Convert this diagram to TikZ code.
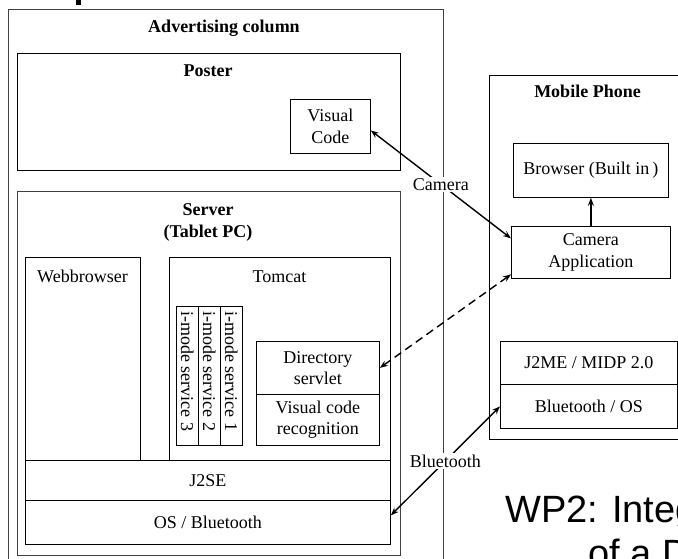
\documentclass[tikz,border=0pt]{standalone}
\usepackage{fontspec}
\setmainfont{Liberation Serif}
\newfontfamily\slidefont{Liberation Sans}
\usetikzlibrary{arrows.meta,positioning,calc}

\tikzset{
  box/.style={draw=black, line width=0.8pt, rectangle, inner sep=0pt, anchor=north west},
  outerbox/.style={draw=black!75, line width=0.9pt, rectangle, inner sep=0pt, anchor=north west},
  txt/.style={inner sep=0pt, align=center, font=\fontsize{18}{21.5}\selectfont},
  bold/.style={txt, font=\fontsize{18}{21.5}\selectfont\bfseries},
  svc/.style={txt, rotate=-90, anchor=west},
  tip/.style={Stealth[length=8pt,width=6pt]},
  link/.style={line width=1.4pt, {Stealth[length=8pt,width=6pt]}-{Stealth[length=8pt,width=6pt]}},
  linklabel/.style={txt, fill=white, inner sep=1.5pt},
  slide/.style={inner sep=0pt, anchor=base west, font=\fontsize{38}{44}\slidefont}
}

\begin{document}
\begin{tikzpicture}[x=1pt, y=-1pt]
\useasboundingbox (0,0) rectangle (678,558);
\clip (0,0) rectangle (678,558);
\fill[white] (0,0) rectangle (678,558);

% slide title descender and slide heading
\fill[black] (76,0) rectangle (81,5);
\node[slide] (wpa) at (505,522) {WP2: Integ};
\node[slide] (wpb) at (588,566) {of a D};

% advertising column with poster
\node[outerbox, minimum width=435pt, minimum height=570pt] (adcol) at (8,9) {};
\node[bold, anchor=base] (adcoltitle) at (224,32) {Advertising column};

\node[box, minimum width=383pt, minimum height=117pt] (poster) at (17,53) {};
\node[bold, anchor=base] (postertitle) at (208,76) {Poster};
\node[box, minimum width=80pt, minimum height=54pt] (vcode) at (290,99) {};
\node[txt] at (vcode.center) {Visual\\Code};

% server
\node[outerbox, minimum width=383pt, minimum height=364pt] (server) at (17,191) {};
\node[bold, anchor=base] (servertitle) at (208,237) {Server\\(Tablet PC)};

\node[box, minimum width=115pt, minimum height=203pt] (web) at (25,257) {};
\node[txt, anchor=base] at (82.5,282) {Webbrowser};

\node[box, minimum width=221pt, minimum height=203pt] (tomcat) at (169,257) {};
\node[txt, anchor=base] at (279.5,282) {Tomcat};

\node[box, minimum width=22pt, minimum height=139pt] (svcc) at (176,306) {};
\node[box, minimum width=22pt, minimum height=139pt] (svcb) at (198,306) {};
\node[box, minimum width=22pt, minimum height=139pt] (svca) at (220,306) {};
\node[svc] at ([yshift=-5pt]svcc.north) {i-mode service 3};
\node[svc] at ([yshift=-5pt]svcb.north) {i-mode service 2};
\node[svc] at ([yshift=-5pt]svca.north) {i-mode service 1};

\node[box, minimum width=123pt, minimum height=53pt] (dirserv) at (256,341) {};
\node[txt] at (dirserv.center) {Directory\\servlet};
\node[box, minimum width=123pt, minimum height=51pt] (vcr) at (256,394) {};
\node[txt] at (vcr.center) {Visual code\\recognition};

\node[box, minimum width=365pt, minimum height=40pt] (j2se) at (25,460) {};
\node[txt] at (j2se.center) {J2SE};
\node[box, minimum width=365pt, minimum height=44pt] (osbt) at (25,500) {};
\node[txt] at (osbt.center) {OS / Bluetooth};

% mobile phone
\node[box, minimum width=220pt, minimum height=364pt] (phone) at (489,75) {};
\node[bold, anchor=base] (phonetitle) at (587.5,97) {Mobile Phone};

\node[box, minimum width=155pt, minimum height=54pt] (browser) at (513,143) {};
\node[txt] at (browser.center) {Browser (Built in\thinspace)};
\node[box, minimum width=159pt, minimum height=52pt] (camapp) at (511,226) {};
\node[txt] at (camapp.center) {Camera\\Application};

\node[box, minimum width=177pt, minimum height=43pt] (j2me) at (500,341) {};
\node[txt] at (j2me.center) {J2ME / MIDP 2.0};
\node[box, minimum width=177pt, minimum height=44pt] (btos) at (500,384) {};
\node[txt] at (btos.center) {Bluetooth / OS};

% connections
\draw[line width=1.4pt, -{Stealth[length=8pt,width=6pt]}] (camapp.north) -- (browser.south);
\draw[link] ([yshift=14pt]camapp.west) -- node[linklabel] {Camera} ([yshift=-4pt]vcode.east);
\draw[link, dash pattern=on 8pt off 5pt] ([yshift=-22pt]camapp.west) -- (dirserv.east);
\draw[link] (btos.west) -- node[linklabel] {Bluetooth} ([yshift=7pt]osbt.east);
\end{tikzpicture}
\end{document}
